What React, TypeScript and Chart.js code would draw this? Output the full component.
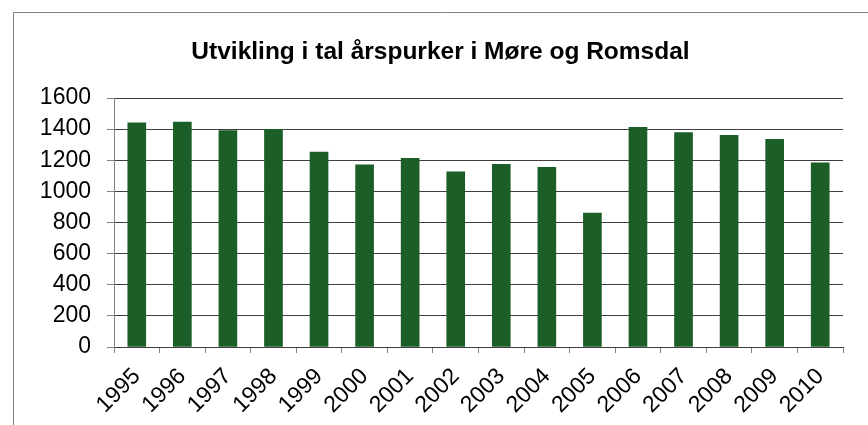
import React, { useEffect, useRef } from "react";
import { Chart, registerables } from "chart.js";

Chart.register(...registerables);

const title = "Utvikling i tal årspurker i Møre og Romsdal";
const years = ["1995","1996","1997","1998","1999","2000","2001","2002","2003","2004","2005","2006","2007","2008","2009","2010"];
const sows = [1441, 1446, 1390, 1399, 1253, 1170, 1213, 1125, 1174, 1155, 861, 1412, 1377, 1360, 1335, 1184];
const yMin = 0;
const yMax = 1600;
const yStep = 200;

const FONT = "'Liberation Sans', Arial, sans-serif";

const framePlugin = {
  id: "frameAndTitle",
  beforeDraw(chart: any) {
    const ctx = chart.ctx;
    ctx.save();
    ctx.fillStyle = "#ffffff";
    ctx.fillRect(0, 0, chart.width, chart.height);
    ctx.strokeStyle = "#808080";
    ctx.lineWidth = 1;
    ctx.beginPath();
    ctx.moveTo(13.5, chart.height + 2);
    ctx.lineTo(13.5, 12.5);
    ctx.lineTo(chart.width + 2, 12.5);
    ctx.stroke();
    ctx.restore();
  },
  afterDraw(chart: any) {
    const ctx = chart.ctx;
    ctx.save();
    ctx.fillStyle = "#000000";
    ctx.font = `bold 24.5px ${FONT}`;
    ctx.textAlign = "center";
    ctx.textBaseline = "alphabetic";
    ctx.fillText(title, 440.5, 58.5);
    ctx.restore();
  },
};

export default function App() {
  const ref = useRef<HTMLCanvasElement | null>(null);
  useEffect(() => {
    document.body.style.margin = "0";
    const chart = new Chart(ref.current as HTMLCanvasElement, {
      type: "bar",
      data: {
        labels: years,
        datasets: [
          {
            label: "Årspurker",
            data: sows,
            backgroundColor: "#1b5e27",
            borderColor: "#1b5e27",
            borderWidth: 0,
            barThickness: 18,
          },
        ],
      },
      options: {
        animation: false,
        responsive: false,
        maintainAspectRatio: false,
        layout: { padding: { left: 0, top: 98, right: 25, bottom: 0 } },
        plugins: {
          legend: { display: false },
          title: { display: false },
          tooltip: { enabled: false },
        },
        scales: {
          x: {
            offset: true,
            afterFit: (s: any) => { s.height = 78; },
            grid: {
              offset: true,
              drawOnChartArea: false,
              drawTicks: true,
              tickLength: 6,
              tickColor: "#808080",
            },
            border: { color: "#404040", width: 1 },
            ticks: {
              autoSkip: false,
              minRotation: 45,
              maxRotation: 45,
              padding: 10,
              color: "#000000",
              font: { family: FONT, size: 23 },
            },
          },
          y: {
            min: yMin,
            max: yMax,
            afterFit: (s: any) => { s.width = 114; },
            grid: {
              color: "#404040",
              lineWidth: 1,
              tickLength: 7,
              tickColor: "#808080",
            },
            border: { color: "#808080", width: 1 },
            ticks: {
              stepSize: yStep,
              padding: 16,
              color: "#000000",
              font: { family: FONT, size: 23 },
              callback: (v: any) => String(v),
            },
          },
        },
      },
      plugins: [framePlugin],
    });
    return () => chart.destroy();
  }, []);
  return (
    <div style={{ position: "fixed", left: 0, top: 0, width: 868, height: 425 }}>
      <canvas ref={ref} width={868} height={425} style={{ display: "block" }} />
    </div>
  );
}
